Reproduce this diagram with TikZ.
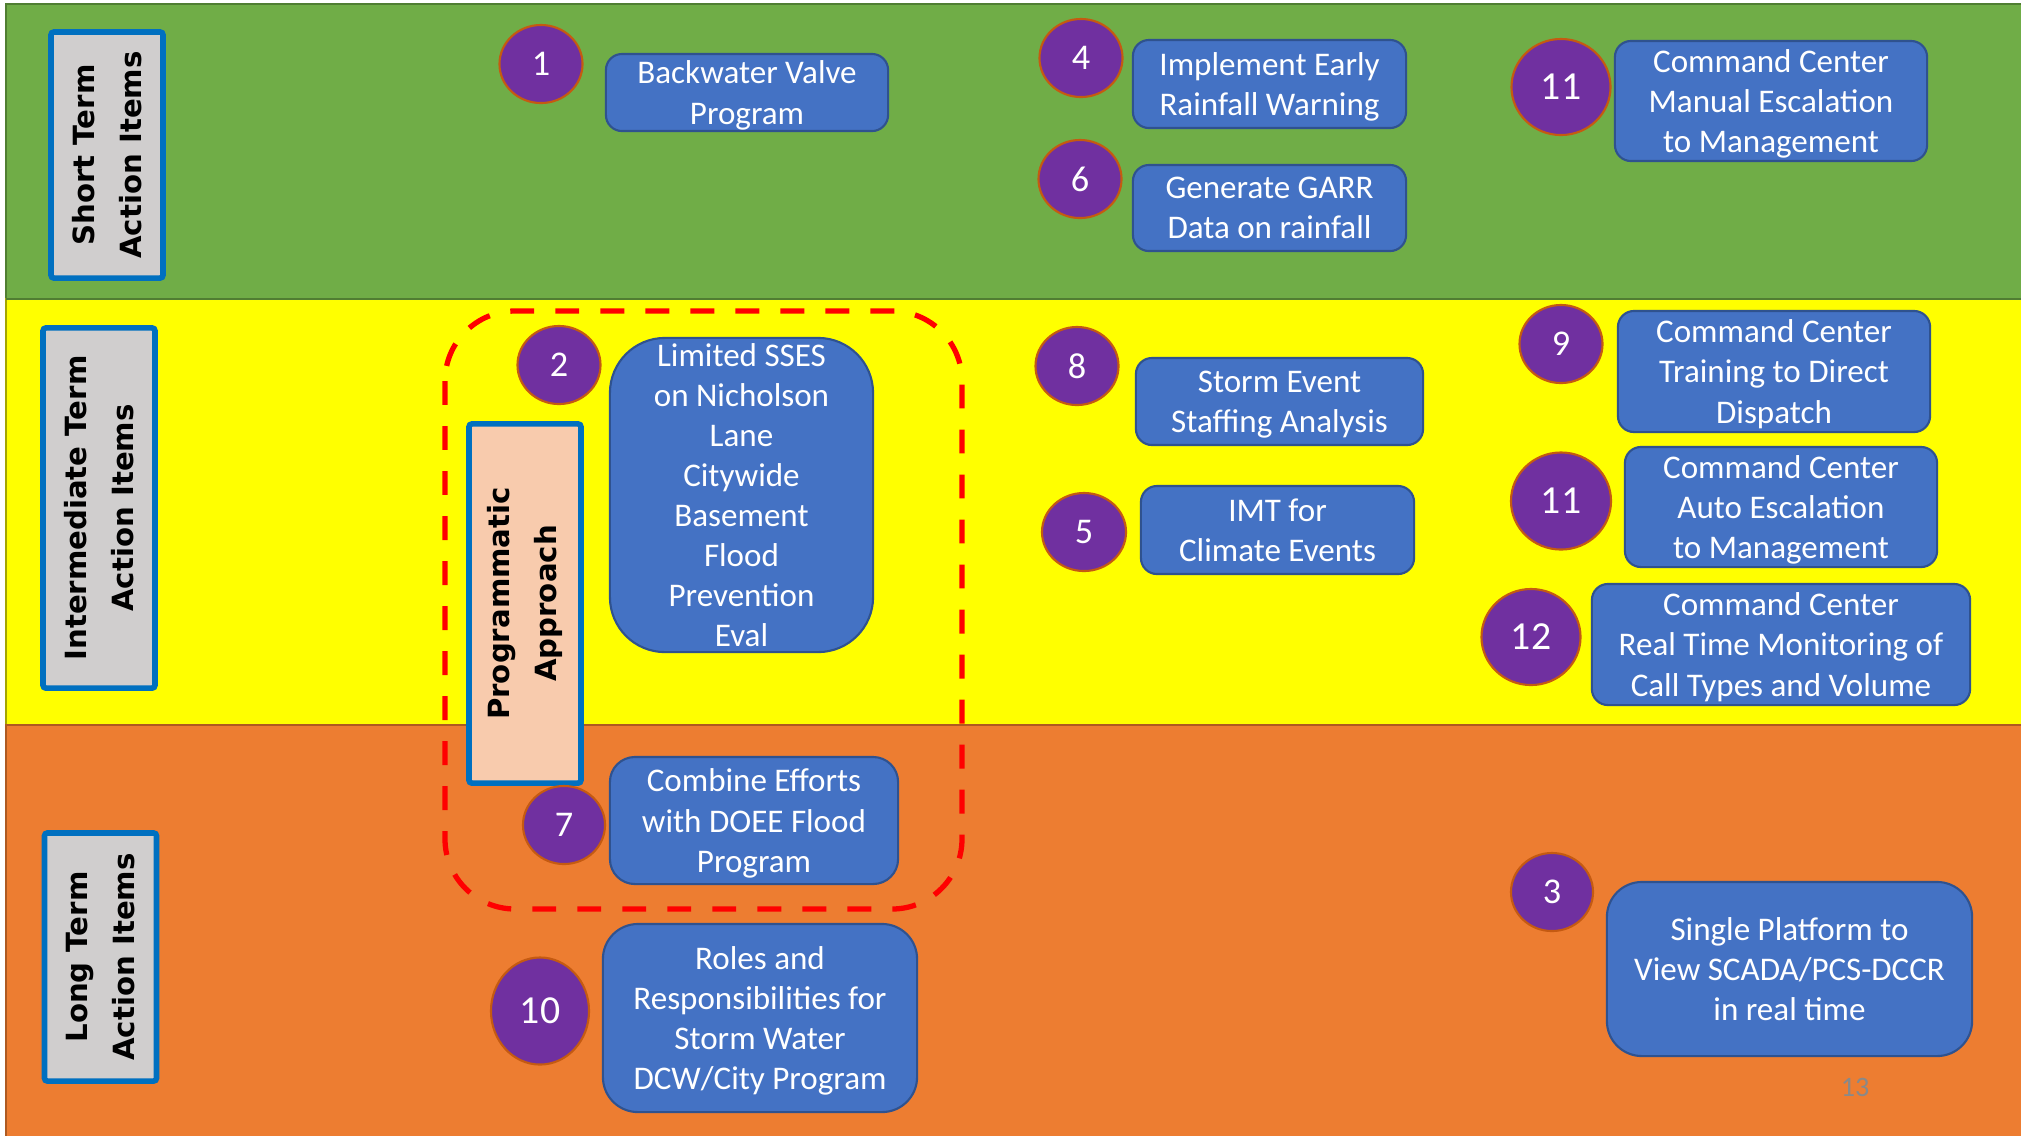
\documentclass[tikz,border=0pt]{standalone}
\usepackage{fontspec}
\setmainfont{Carlito}
\newfontfamily\labelfont{DejaVu Sans}
\usetikzlibrary{shapes.geometric}

\definecolor{shortgreen}{HTML}{70AD47}
\definecolor{shortline}{HTML}{507E32}
\definecolor{midyellow}{HTML}{FFFF00}
\definecolor{midline}{HTML}{A5A500}
\definecolor{longorange}{HTML}{ED7D31}
\definecolor{longline}{HTML}{AE5A21}
\definecolor{boxblue}{HTML}{4472C4}
\definecolor{boxline}{HTML}{2F528F}
\definecolor{numpurple}{HTML}{7030A0}
\definecolor{numline}{HTML}{C55A11}
\definecolor{termgray}{HTML}{D0CECE}
\definecolor{termblue}{HTML}{0070C0}
\definecolor{progpeach}{HTML}{F8CBAD}
\definecolor{pagegray}{HTML}{898989}

\begin{document}
\begin{tikzpicture}[x=0.01cm, y=-0.01cm,
  item/.style={draw=boxline, fill=boxblue, text=white, rounded corners=0.16cm,
    align=center, inner sep=0pt, line width=0.6pt, text depth=0pt,
    font=\fontsize{9.4}{11.4}\selectfont},
  num/.style={ellipse, draw=numline, fill=numpurple, text=white, inner sep=0pt,
    line width=0.6pt, minimum width=0.83cm, minimum height=0.78cm,
    font=\fontsize{10.3}{12}\selectfont},
  bignum/.style={num, minimum width=0.99cm, minimum height=0.96cm,
    font=\fontsize{11.3}{13}\selectfont},
  term/.style={draw=termblue, fill=termgray, line width=1.6pt, rounded corners=0.03cm,
    rotate=90, align=center, inner sep=0pt, minimum height=1.12cm,
    font=\labelfont\bfseries\fontsize{8.3}{13.2}\selectfont}]
\useasboundingbox (0,0) rectangle (2021,1135);

% bands
\fill[white] (0,0) rectangle (2021,1135);
\draw[fill=shortgreen, draw=shortline, line width=0.6pt] (6,4) rectangle (2030,299);
\draw[fill=midyellow, draw=midline, line width=0.6pt] (6,299) rectangle (2030,725);
\draw[fill=longorange, draw=longline, line width=0.6pt] (6,725) rectangle (2030,1145);
\draw[shortline, line width=0.8pt] (6,299) -- (2030,299);

% programmatic group
\draw[red, line width=1.5pt, dash pattern=on 6.8pt off 6pt, rounded corners=0.7cm]
  (445,311) rectangle (962,909);

% row labels
\node[term, minimum width=2.46cm] (short) at (107,155) {Short Term\\Action Items};
\node[term, minimum width=3.60cm] (inter) at (99,508) {Intermediate Term\\Action Items};
\node[term, minimum width=2.48cm] (long) at (100.5,957) {Long Term\\Action Items};
\node[term, fill=progpeach, minimum width=3.59cm] (prog) at (525,603.5) {Programmatic\\Approach};

% short term
\node[num] (n1) at (541,64) {1};
\node[item, minimum width=2.82cm, minimum height=0.77cm] (i1) at (747,92.5) {Backwater Valve\\Program};
\node[num] (n4) at (1081,58) {4};
\node[item, minimum width=2.73cm, minimum height=0.88cm] (i4) at (1269.5,84) {Implement Early\\Rainfall Warning};
\node[num] (n6) at (1080,179) {6};
\node[item, minimum width=2.73cm, minimum height=0.86cm] (i6) at (1269.5,208) {Generate GARR\\Data on rainfall};
\node[bignum] (n11a) at (1561,87) {11};
\node[item, minimum width=3.12cm, minimum height=1.20cm] (i11a) at (1771,101) {Command Center\\Manual Escalation\\to Management};

% intermediate term
\node[num] (n2) at (559,365) {2};
\node[item, rounded corners=0.55cm, minimum width=2.63cm, minimum height=3.14cm] (i2) at (741.5,495)
  {Limited SSES\\on Nicholson\\Lane\\Citywide\\Basement\\Flood\\Prevention\\Eval};
\node[num] (n8) at (1077,366) {8};
\node[item, minimum width=2.87cm, minimum height=0.87cm] (i8) at (1279.5,401.5) {Storm Event\\Staffing Analysis};
\node[num, minimum width=0.84cm] (n5) at (1084,532) {5};
\node[item, minimum width=2.73cm, minimum height=0.88cm] (i5) at (1277.5,530) {IMT for\\Climate Events};
\node[num] (n9) at (1561,344) {9};
\node[item, minimum width=3.12cm, minimum height=1.21cm] (i9) at (1774,371.5) {Command Center\\Training to Direct\\Dispatch};
\node[bignum, minimum width=1.00cm, minimum height=0.97cm] (n11b) at (1561,501) {11};
\node[item, minimum width=3.12cm, minimum height=1.20cm] (i11b) at (1781,507) {Command Center\\Auto Escalation\\to Management};
\node[bignum] (n12) at (1531,637) {12};
\node[item, minimum width=3.78cm, minimum height=1.21cm] (i12) at (1781,644.5) {Command Center\\Real Time Monitoring of\\Call Types and Volume};

% long term
\node[num, minimum width=0.82cm] (n7) at (564,825) {7};
\node[item, rounded corners=0.25cm, minimum width=2.88cm, minimum height=1.27cm] (i7) at (754,820.5) {Combine Efforts\\with DOEE Flood\\Program};
\node[bignum, minimum width=0.98cm, minimum height=1.07cm] (n10) at (540,1011) {10};
\node[item, rounded corners=0.35cm, minimum width=3.14cm, minimum height=1.88cm] (i10) at (760,1018) {Roles and\\Responsibilities for\\Storm Water\\DCW/City Program};
\node[num, minimum width=0.82cm] (n3) at (1552,892) {3};
\node[item, rounded corners=0.35cm, minimum width=3.65cm, minimum height=1.74cm] (i3) at (1789.5,969) {Single Platform to\\View SCADA/PCS-DCCR\\in real time};

\node[text=pagegray, font=\fontsize{8}{9}\selectfont] (page) at (1855,1087) {13};
\end{tikzpicture}
\end{document}
